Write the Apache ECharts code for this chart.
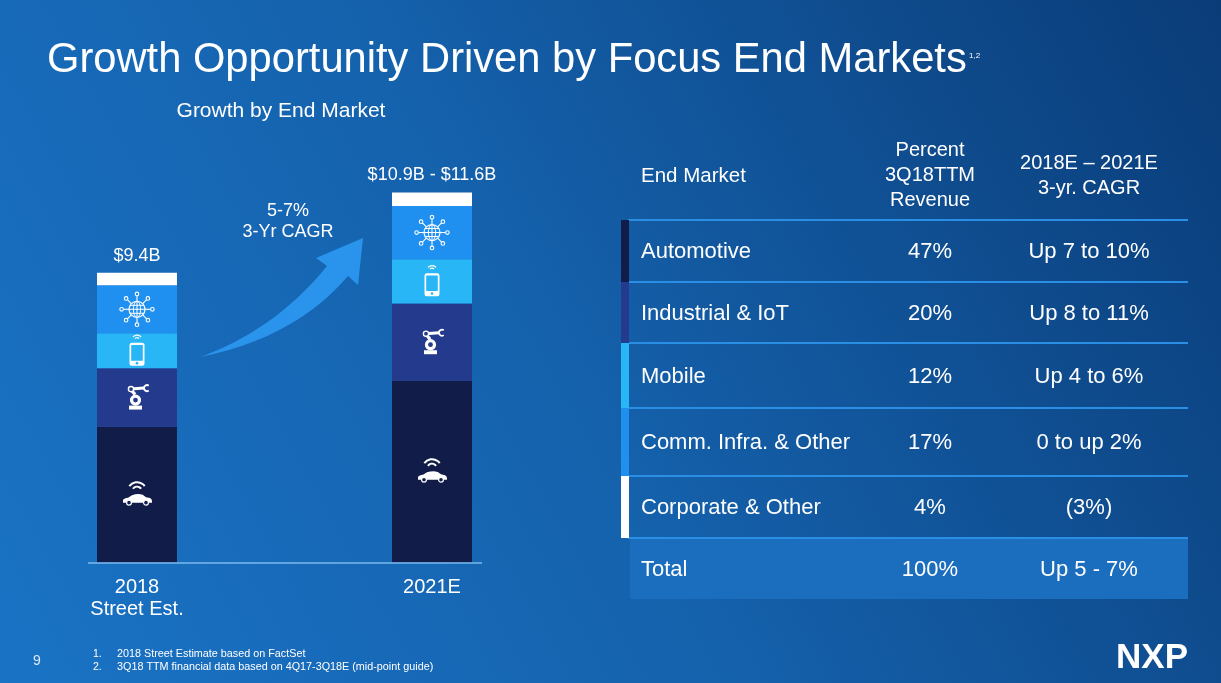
<!DOCTYPE html>
<html>
<head>
<meta charset="utf-8">
<script src="https://cdn.jsdelivr.net/npm/echarts@6/dist/echarts.min.js"></script>
<style>
html,body{margin:0;padding:0;background:#1563ad;overflow:hidden;}
#c{width:1221px;height:683px;}
</style>
</head>
<body>
<div id="c"></div>
<script>
// ---------------- data ----------------
const categories = ['2018\nStreet Est.', '2021E'];
const automotive = [4.41, 5.90];
const industrial = [1.90, 2.52];
const mobile = [1.14, 1.44];
const comm = [1.56, 1.73];
const corporate = [0.41, 0.44];
const totalLabels = ['$9.4B', '$10.9B - $11.6B'];
const cagrNote = '5-7%\n3-Yr CAGR';

const titleText = 'Growth Opportunity Driven by Focus End Markets';
const titleSup = '1,2';
const subtitleText = 'Growth by End Market';

const tableHeaders = ['End Market', 'Percent\n3Q18TTM\nRevenue', '2018E \u2013 2021E\n3-yr. CAGR'];
const markets = ['Automotive', 'Industrial & IoT', 'Mobile', 'Comm. Infra. & Other', 'Corporate & Other'];
const revenueShare = ['47%', '20%', '12%', '17%', '4%'];
const cagrRanges = ['Up 7 to 10%', 'Up 8 to 11%', 'Up 4 to 6%', '0 to up 2%', '(3%)'];
const totalRow = ['Total', '100%', 'Up 5 - 7%'];
const footnotes = ['2018 Street Estimate based on FactSet', '3Q18 TTM financial data based on 4Q17-3Q18E (mid-point guide)'];
const pageNumber = '9';
const logoText = 'NXP';

// ---------------- styles / layout ----------------
const COLORS = ['#111d48', '#243a8c', '#29b6f6', '#1f8ff0', '#ffffff'];
const FONT = '"Liberation Sans", Arial, Helvetica, sans-serif';
const stackArrays = [automotive, industrial, mobile, comm, corporate];
const seriesNames = ['Automotive', 'Industrial & IoT', 'Mobile', 'Comm. Infra. & Other', 'Corporate & Other'];
const iconKinds = ['car', 'robot', 'phone', 'globe', null];

const rowEdges = [220, 282, 343, 408, 476, 538, 599];
const tableLeft = 628, tableRight = 1188;
const colX = [641, 930, 1089];

function font(size, weight) { return (weight || 'normal') + ' ' + size + 'px ' + FONT; }
function txt(x, y, text, size, align, extra) {
  return {
    type: 'text', x: x, y: y, z: 20, silent: true,
    style: Object.assign({
      text: text, fill: '#ffffff', font: font(size),
      align: align || 'left', verticalAlign: 'middle',
      textAlign: align || 'left', textVerticalAlign: 'middle'
    }, extra || {})
  };
}

// ---------------- icons ----------------
const W = '#ffffff';
function strokeStyle(lw) { return { stroke: W, lineWidth: lw || 1.2, fill: 'none' }; }
function makeIcon(kind, bg) {
  const ch = [];
  if (kind === 'globe') {
    ch.push({ type: 'circle', shape: { cx: 0, cy: 0, r: 8 }, style: strokeStyle(1.2) });
    ch.push({ type: 'path', shape: { pathData: 'M0 -8 C2 -8 3.6 -4.4 3.6 0 C3.6 4.4 2 8 0 8 C-2 8 -3.6 4.4 -3.6 0 C-3.6 -4.4 -2 -8 0 -8 Z' }, style: strokeStyle(1) });
    ch.push({ type: 'line', shape: { x1: -8, y1: 0, x2: 8, y2: 0 }, style: strokeStyle(1) });
    ch.push({ type: 'line', shape: { x1: 0, y1: -8, x2: 0, y2: 8 }, style: strokeStyle(1) });
    ch.push({ type: 'line', shape: { x1: -6.9, y1: -4, x2: 6.9, y2: -4 }, style: strokeStyle(1) });
    ch.push({ type: 'line', shape: { x1: -6.9, y1: 4, x2: 6.9, y2: 4 }, style: strokeStyle(1) });
    for (let a = 0; a < 8; a++) {
      const t = a * Math.PI / 4;
      const c = Math.cos(t), s = Math.sin(t);
      ch.push({ type: 'line', shape: { x1: 8 * c, y1: 8 * s, x2: 13.6 * c, y2: 13.6 * s }, style: strokeStyle(1.1) });
      ch.push({ type: 'circle', shape: { cx: 15.4 * c, cy: 15.4 * s, r: 1.8 }, style: { stroke: W, lineWidth: 1.1, fill: bg } });
    }
  } else if (kind === 'phone') {
    ch.push({ type: 'arc', shape: { cx: 0, cy: -10.5, r: 2.6, startAngle: -Math.PI * 0.78, endAngle: -Math.PI * 0.22, clockwise: true }, style: strokeStyle(1.2) });
    ch.push({ type: 'arc', shape: { cx: 0, cy: -10.5, r: 5.2, startAngle: -Math.PI * 0.78, endAngle: -Math.PI * 0.22, clockwise: true }, style: strokeStyle(1.2) });
    ch.push({ type: 'rect', shape: { x: -7.5, y: -8, width: 15, height: 23, r: 2.5 }, style: { fill: W } });
    ch.push({ type: 'rect', shape: { x: -5.8, y: -5.8, width: 11.6, height: 15.6, r: 0.5 }, style: { fill: bg } });
    ch.push({ type: 'circle', shape: { cx: 0, cy: 12.3, r: 1.3 }, style: { fill: bg } });
  } else if (kind === 'robot') {
    ch.push({ type: 'rect', shape: { x: -8, y: 8, width: 13, height: 4 }, style: { fill: W } });
    ch.push({ type: 'circle', shape: { cx: -1.5, cy: 2.5, r: 5.6 }, style: { fill: W } });
    ch.push({ type: 'circle', shape: { cx: -1.5, cy: 2.5, r: 2.4 }, style: { fill: bg } });
    ch.push({ type: 'line', shape: { x1: -2, y1: -3, x2: -6, y2: -8 }, style: { stroke: W, lineWidth: 3.2 } });
    ch.push({ type: 'line', shape: { x1: -6, y1: -8.5, x2: 7, y2: -9.5 }, style: { stroke: W, lineWidth: 3 } });
    ch.push({ type: 'circle', shape: { cx: -6, cy: -8.5, r: 2.6 }, style: { stroke: W, lineWidth: 1.4, fill: bg } });
    ch.push({ type: 'arc', shape: { cx: 10, cy: -9.5, r: 3, startAngle: Math.PI * 0.3, endAngle: Math.PI * 1.7, clockwise: true }, style: strokeStyle(1.8) });
  } else if (kind === 'car') {
    ch.push({ type: 'arc', shape: { cx: 0, cy: -3, r: 5, startAngle: -Math.PI * 0.8, endAngle: -Math.PI * 0.2, clockwise: true }, style: strokeStyle(2) });
    ch.push({ type: 'arc', shape: { cx: 0, cy: -3, r: 9.5, startAngle: -Math.PI * 0.8, endAngle: -Math.PI * 0.2, clockwise: true }, style: strokeStyle(2) });
    ch.push({ type: 'path', shape: { pathData: 'M-14 8 L-14 5.5 Q-13.5 3.5 -9 3 L-5 0.6 Q-2 -0.6 2 -0.6 Q6 -0.6 9 2.6 L13 3.4 Q15 4.4 15 6.5 L15 8 Z' }, style: { fill: W } });
    ch.push({ type: 'circle', shape: { cx: -8, cy: 8, r: 2.4 }, style: { stroke: W, lineWidth: 1.2, fill: bg } });
    ch.push({ type: 'circle', shape: { cx: 9, cy: 8, r: 2.4 }, style: { stroke: W, lineWidth: 1.2, fill: bg } });
  }
  return ch;
}

// icon anchor points: middle of each stacked segment (data-derived)
const iconData = [];
categories.forEach(function (c, i) {
  let base = 0;
  stackArrays.forEach(function (arr, k) {
    if (iconKinds[k]) iconData.push([i, base + arr[i] / 2, k]);
    base += arr[i];
  });
});

// ---------------- series ----------------
const series = stackArrays.map(function (arr, k) {
  const s = {
    name: seriesNames[k], type: 'bar', stack: 'total', data: arr,
    barWidth: 80, clip: false, z: 2,
    itemStyle: { color: COLORS[k] },
    emphasis: { disabled: true }
  };
  if (k === stackArrays.length - 1) {
    s.label = {
      show: true, position: 'top', distance: 8, color: '#ffffff',
      fontFamily: FONT, fontSize: 18,
      formatter: function (p) { return totalLabels[p.dataIndex]; }
    };
  }
  return s;
});
series.push({
  type: 'custom', name: 'icons', data: iconData, z: 5, silent: true, clip: false,
  encode: { x: 0, y: 1 },
  renderItem: function (params, api) {
    const p = api.coord([api.value(0), api.value(1)]);
    const k = api.value(2);
    return { type: 'group', x: p[0], y: p[1], children: makeIcon(iconKinds[k], COLORS[k]) };
  }
});

// ---------------- arrow outline (decorative swoosh) ----------------
function quadPts(p0, c, p1, n) {
  const out = [];
  for (let i = 0; i <= n; i++) {
    const t = i / n, u = 1 - t;
    out.push([u * u * p0[0] + 2 * u * t * c[0] + t * t * p1[0], u * u * p0[1] + 2 * u * t * c[1] + t * t * p1[1]]);
  }
  return out;
}
const arrowPts = []
  .concat(quadPts([200, 357], [275, 330], [327, 266], 24))
  .concat([[316, 258], [363, 238], [358, 285]])
  .concat(quadPts([348, 276], [295, 338], [200, 357], 24));

// ---------------- graphics (background, arrow, texts, table) ----------------
const graphics = [];
graphics.push({
  type: 'rect', z: -100, silent: true, shape: { x: 0, y: 0, width: 1221, height: 683 },
  style: {
    fill: new echarts.graphic.LinearGradient(0, 1, 1, 0, [
      { offset: 0, color: '#1a73c5' },
      { offset: 0.45, color: '#1562ad' },
      { offset: 1, color: '#0a3c78' }
    ])
  }
});
graphics.push({ type: 'polygon', z: 3, silent: true, shape: { points: arrowPts }, style: { fill: '#2a94ec' } });
graphics.push({ type: 'line', z: 10, silent: true, shape: { x1: 88, y1: 563, x2: 482, y2: 563 }, style: { stroke: '#7cb9ee', lineWidth: 1.5 } });

graphics.push(txt(47, 61, titleText, 41.7, 'left'));
graphics.push(txt(969, 56, titleSup, 8, 'left'));
graphics.push(txt(281, 111, subtitleText, 21, 'center'));
graphics.push(txt(288, 222, cagrNote, 18, 'center', { lineHeight: 21 }));

graphics.push(txt(colX[0], 176, tableHeaders[0], 20.5, 'left'));
graphics.push(txt(colX[1], 175, tableHeaders[1], 20, 'center', { lineHeight: 25 }));
graphics.push(txt(colX[2], 176, tableHeaders[2], 20, 'center', { lineHeight: 25 }));

graphics.push({ type: 'rect', z: 1, silent: true, shape: { x: 630, y: rowEdges[5], width: tableRight - 630, height: rowEdges[6] - rowEdges[5] }, style: { fill: '#1b6dbe' } });

markets.forEach(function (m, i) {
  graphics.push({ type: 'rect', z: 4, silent: true, shape: { x: 621, y: rowEdges[i], width: 8, height: rowEdges[i + 1] - rowEdges[i] }, style: { fill: COLORS[i] } });
});
for (let i = 0; i < 6; i++) {
  graphics.push({ type: 'line', z: 3, silent: true, shape: { x1: tableLeft, y1: rowEdges[i], x2: tableRight, y2: rowEdges[i] }, style: { stroke: '#2a8ee4', lineWidth: 2 } });
}
markets.forEach(function (m, i) {
  const y = (rowEdges[i] + rowEdges[i + 1]) / 2 + 1;
  graphics.push(txt(colX[0], y, m, 22, 'left'));
  graphics.push(txt(colX[1], y, revenueShare[i], 22, 'center'));
  graphics.push(txt(colX[2], y, cagrRanges[i], 22, 'center'));
});
{
  const y = (rowEdges[5] + rowEdges[6]) / 2 + 1;
  graphics.push(txt(colX[0], y, totalRow[0], 22, 'left'));
  graphics.push(txt(colX[1], y, totalRow[1], 22, 'center'));
  graphics.push(txt(colX[2], y, totalRow[2], 22, 'center'));
}

graphics.push(txt(37, 661, pageNumber, 14, 'center', { fill: '#dfe9f5' }));
footnotes.forEach(function (f, i) {
  graphics.push(txt(93, 654 + i * 13, (i + 1) + '.', 10.5, 'left'));
  graphics.push(txt(117, 654 + i * 13, f, 10.8, 'left'));
});
graphics.push(txt(1152, 658, logoText, 35, 'center', { font: font(35, '900') }));

// ---------------- chart ----------------
const chart = echarts.init(document.getElementById('c'), null, { renderer: 'canvas', width: 1221, height: 683 });
chart.setOption({
  animation: false,
  backgroundColor: 'transparent',
  tooltip: { show: false },
  grid: { left: 137, right: 1221 - 432, top: 101, bottom: 120.5, containLabel: false },
  xAxis: {
    type: 'category', data: categories, boundaryGap: false,
    axisLine: { show: false }, axisTick: { show: false }, splitLine: { show: false },
    axisLabel: { color: '#ffffff', fontFamily: FONT, fontSize: 20, lineHeight: 22, margin: 14, interval: 0 }
  },
  yAxis: { type: 'value', min: 0, max: 15, show: false, splitLine: { show: false } },
  series: series,
  graphic: { elements: graphics }
});
</script>
</body>
</html>
